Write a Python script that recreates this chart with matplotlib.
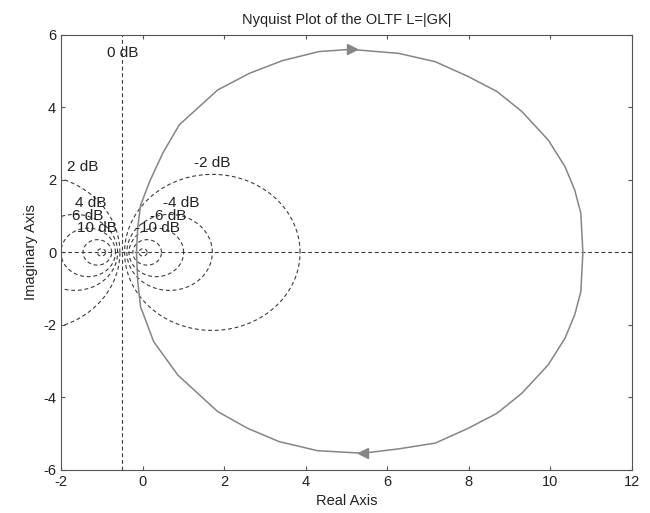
import numpy as np
import matplotlib
matplotlib.use("Agg")
import matplotlib.pyplot as plt

plt.rcParams.update({
    "font.family": ["Liberation Sans", "DejaVu Sans"],
    "font.size": 10,
    "axes.unicode_minus": False,
    "axes.edgecolor": "#555555",
    "xtick.color": "#555555",
    "ytick.color": "#555555",
    "xtick.labelcolor": "#222222",
    "ytick.labelcolor": "#222222",
    "text.color": "#222222",
    "axes.labelcolor": "#222222",
})

# Nyquist curve, negative frequencies (upper half)
upper_x = [-0.15, -0.12, -0.05, 0.17, 0.50, 0.90, 1.84, 2.62, 3.43, 4.33, 5.10,
           6.28, 7.18, 7.99, 8.69, 9.30, 9.95, 10.36, 10.60, 10.75, 10.80]
upper_y = [0.00, 0.70, 1.30, 1.95, 2.75, 3.52, 4.48, 4.94, 5.29, 5.54, 5.60,
           5.49, 5.26, 4.85, 4.44, 3.89, 3.10, 2.37, 1.72, 1.08, 0.00]
# positive frequencies (lower half)
lower_x = [10.80, 10.75, 10.60, 10.36, 9.95, 9.30, 8.69, 7.99, 7.18, 6.28, 5.40,
           4.29, 3.35, 2.57, 1.84, 0.86, 0.27, -0.05, -0.12, -0.15]
lower_y = [0.00, -1.08, -1.72, -2.37, -3.10, -3.89, -4.44, -4.85, -5.26, -5.42, -5.54,
           -5.47, -5.22, -4.85, -4.39, -3.38, -2.46, -1.50, -0.80, 0.00]
arrow_up = (5.14, 5.60)
arrow_down = (5.40, -5.54)

# constant-magnitude grid (dB) and label positions
m_db = [-20, -10, -6, -4, -2, 2, 4, 6, 10, 20]
label_text = ["0 dB", "2 dB", "4 dB", "6 dB", "10 dB", "-2 dB", "-4 dB", "-6 dB", "-10 dB"]
label_x = [-0.88, -1.86, -1.66, -1.74, -1.60, 1.27, 0.49, 0.17, -0.18]
label_y = [5.50, 2.36, 1.37, 1.00, 0.66, 2.47, 1.37, 1.00, 0.66]

GRID = "#3c3c3c"
CURVE = "#858585"

fig = plt.figure(figsize=(6.5, 5.13), dpi=100)
ax = fig.add_axes([0.094, 0.084, 0.878, 0.848])

dash = (0, (3.5, 2.5))
th = np.linspace(0, 2 * np.pi, 400)
for db in m_db:
    m = 10 ** (db / 20)
    c = -m**2 / (m**2 - 1)
    r = abs(m / (m**2 - 1))
    ax.plot(c + r * np.cos(th), r * np.sin(th), color=GRID, lw=0.8, linestyle=dash)
ax.axvline(-0.5, color=GRID, lw=0.8, linestyle=dash)
ax.axhline(0, color=GRID, lw=0.8, linestyle=dash)

for t, x, y in zip(label_text, label_x, label_y):
    ax.text(x, y, t, fontsize=11, ha="left", va="center")

ax.plot(upper_x, upper_y, color=CURVE, lw=1.1)
ax.plot(lower_x, lower_y, color=CURVE, lw=1.1)
ax.plot(*arrow_up, marker=">", color=CURVE, markersize=7)
ax.plot(*arrow_down, marker="<", color=CURVE, markersize=7)

ax.set_xlim(-2, 12)
ax.set_ylim(-6, 6)
ax.set_xticks(range(-2, 13, 2))
ax.set_yticks(range(-6, 7, 2))
ax.tick_params(direction="in", length=3, width=0.8, labelsize=10.5,
               top=True, right=True, labeltop=False, labelright=False)
ax.set_xlabel("Real Axis", fontsize=10.5)
ax.set_ylabel("Imaginary Axis", fontsize=10.5)
ax.set_title("Nyquist Plot of the OLTF L=|GK|", fontsize=10.5, pad=8)

fig.savefig("out.png", dpi=100)
